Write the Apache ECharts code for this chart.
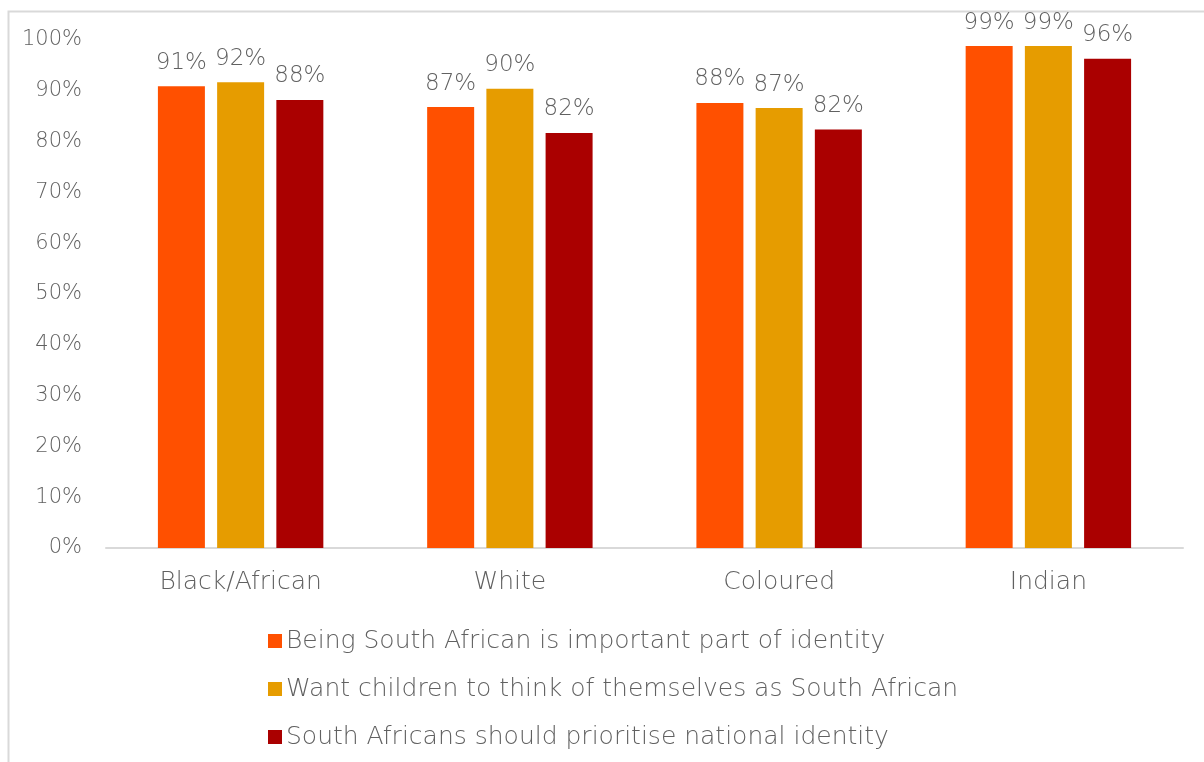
<!DOCTYPE html>
<html><head><meta charset="utf-8">
<script src="https://cdn.jsdelivr.net/npm/echarts@6/dist/echarts.min.js"></script>
<style>html,body{margin:0;padding:0;background:#fff}#c{width:1204px;height:762px}</style>
</head><body><div id="c"></div>
<script>
const categories = ['Black/African', 'White', 'Coloured', 'Indian'];
const seriesNames = [
  'Being South African is important part of identity',
  'Want children to think of themselves as South African',
  'South Africans should prioritise national identity'
];
const importantPart = [90.9, 86.8, 87.6, 98.8];
const wantChildren = [91.7, 90.4, 86.6, 98.8];
const prioritise = [88.2, 81.7, 82.4, 96.3];
const colors = ['#FF5000', '#E69C00', '#AA0000'];
const FONT = 'DejaVu Sans';
const TXT = '#616161';
const chart = echarts.init(document.getElementById('c'));
const mk = (name, data, color) => ({
  name, type: 'bar', data, barWidth: 47, barGap: '26%',
  itemStyle: { color },
  label: { show: true, position: 'top', distance: 12, color: TXT, fontFamily: FONT, fontSize: 23, fontWeight: 300,
    formatter: p => Math.round(p.value) + '%' }
});
chart.setOption({
  animation: false,
  textStyle: { fontFamily: FONT },
  graphic: [{ type: 'polyline', shape: { points: [[8.5, 762], [8.5, 11.5], [1204, 11.5]] },
    style: { stroke: '#d9d9d9', lineWidth: 2, fill: null } }],
  grid: { left: 106, right: 21, top: 40, bottom: 214 },
  legend: {
    orient: 'vertical', left: 263, top: 622, itemGap: 20, itemWidth: 14, itemHeight: 14,
    icon: 'rect',
    textStyle: { color: TXT, fontSize: 25, lineHeight: 28, fontFamily: FONT, fontWeight: 300, padding: [0, 0, 0, -1] },
    data: seriesNames
  },
  xAxis: {
    type: 'category', data: categories,
    axisLine: { lineStyle: { color: '#d9d9d9', width: 2 } },
    axisTick: { show: false },
    axisLabel: { color: TXT, fontSize: 25, fontFamily: FONT, fontWeight: 300, margin: 22 }
  },
  yAxis: {
    type: 'value', min: 0, max: 100, interval: 10,
    axisLine: { show: false }, axisTick: { show: false }, splitLine: { show: false },
    axisLabel: { color: TXT, fontSize: 21, fontFamily: FONT, fontWeight: 300, margin: 24, formatter: v => v + '%' }
  },
  series: [
    mk(seriesNames[0], importantPart, colors[0]),
    mk(seriesNames[1], wantChildren, colors[1]),
    mk(seriesNames[2], prioritise, colors[2])
  ]
});
</script></body></html>
